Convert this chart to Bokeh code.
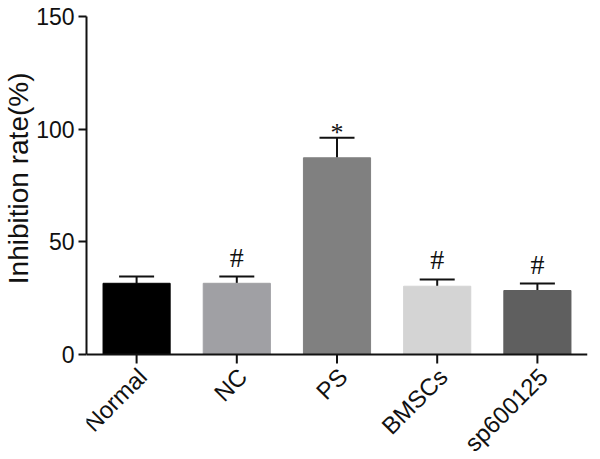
from bokeh.plotting import figure
from bokeh.models import ColumnDataSource, Range1d, FixedTicker, Whisker, TeeHead, LabelSet, Span, Title
from bokeh.embed import file_html
from bokeh.resources import INLINE
from bokeh.core.properties import value
import math

groups = ["Normal", "NC", "PS", "BMSCs", "sp600125"]
means = [31.6, 31.6, 87.3, 30.3, 28.4]
errors = [3.0, 3.0, 8.9, 3.0, 3.1]
marks = ["", "#", "*", "#", "#"]
colors = ["#000000", "#a0a0a4", "#808080", "#d4d4d4", "#5f5f5f"]
y_ticks = [0, 50, 100, 150]
y_title = "Inhibition rate(%)"

tops = [m + e for m, e in zip(means, errors)]

FONT = "Liberation Sans"
INK = "#111111"
Y_MAX = 150
Y_LOW = -46.6      # extra room below zero for the rotated category labels
TICK = 4.0         # x tick length in data units (~9 px)

src = ColumnDataSource(dict(g=groups, m=means, top=tops, c=colors,
                            zero=[0] * len(groups), tick=[-TICK] * len(groups)))

p = figure(x_range=groups, y_range=Range1d(Y_LOW, Y_MAX), width=590, height=459,
           output_backend="svg", toolbar_location=None,
           min_border_left=80, min_border_right=3, min_border_top=16, min_border_bottom=0)
p.outline_line_color = None
p.grid.grid_line_color = None
p.xaxis.visible = False

p.vbar(x="g", top="m", width=0.67, bottom=0, fill_color="c", line_color="c", source=src)

# x axis line and ticks at zero
p.add_layout(Span(location=0, dimension="width", line_color=INK, line_width=2))
p.segment(x0="g", y0="zero", x1="g", y1="tick", line_color=INK, line_width=2, source=src)

# category labels
p.text(x="g", y="zero", text="g", source=src, angle=math.pi / 4, x_offset=6, y_offset=18,
       text_align="right", text_baseline="middle",
       text_font=value(FONT), text_font_size="24px", text_color=INK)

wh = Whisker(base="g", lower="m", upper="top", source=src, dimension="height",
             line_color=INK, line_width=2,
             upper_head=TeeHead(size=35, line_color=INK, line_width=2),
             lower_head=None)
p.add_layout(wh)

hash_src = ColumnDataSource(dict(g=[g for g, s in zip(groups, marks) if s == "#"],
                                 y=[t for t, s in zip(tops, marks) if s == "#"],
                                 t=[s for s in marks if s == "#"]))
star_src = ColumnDataSource(dict(g=[g for g, s in zip(groups, marks) if s == "*"],
                                 y=[t for t, s in zip(tops, marks) if s == "*"],
                                 t=[s for s in marks if s == "*"]))
p.add_layout(LabelSet(x="g", y="y", text="t", source=hash_src, y_offset=10,
                      text_align="center", text_baseline="alphabetic",
                      text_font=FONT, text_font_size="28px", text_color=INK))
p.add_layout(LabelSet(x="g", y="y", text="t", source=star_src, y_offset=-3,
                      text_align="center", text_baseline="alphabetic",
                      text_font=FONT, text_font_size="26px", text_color=INK))

# y axis title, placed along the 0-150 span rather than the whole frame
p.add_layout(Title(text=y_title, align="right", offset=56, standoff=0,
                   text_font=FONT, text_font_size="28px", text_font_style="normal",
                   text_color=INK), "left")

p.yaxis.ticker = FixedTicker(ticks=y_ticks)
p.yaxis.bounds = (0, Y_MAX)
ax = p.yaxis
ax.axis_line_width = 2
ax.axis_line_color = INK
ax.major_tick_line_width = 2
ax.major_tick_line_color = INK
ax.major_tick_out = 8
ax.major_tick_in = 0
ax.minor_tick_line_color = None
ax.major_label_text_font = FONT
ax.major_label_text_font_size = "23px"
ax.major_label_text_color = INK
ax.major_label_standoff = 4

open("out.html", "w").write(file_html(p, INLINE))
